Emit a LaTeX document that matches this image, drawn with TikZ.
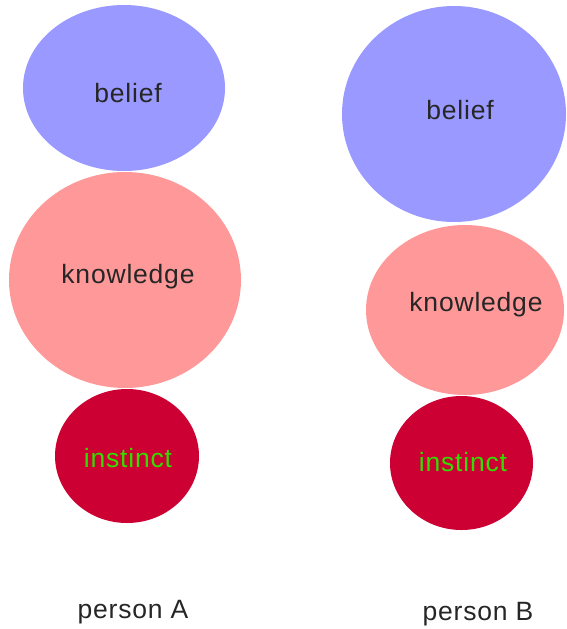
\documentclass[tikz,border=0pt]{standalone}
\usepackage{fontspec}
\setmainfont{Liberation Sans}[LetterSpace=3]
\definecolor{beliefblue}{HTML}{9999FF}
\definecolor{knowpink}{HTML}{FF9999}
\definecolor{instred}{HTML}{CC0033}
\definecolor{instgreen}{HTML}{33DD00}
\begin{document}
\begin{tikzpicture}[x=1pt,y=-1pt,
  lbl/.style={font=\fontsize{26.5}{30}\selectfont, inner sep=0pt, text=black!85}]
\useasboundingbox (0,0) rectangle (566,629);
% person A
\fill[beliefblue] (124,88) ellipse [x radius=101, y radius=83];
\fill[knowpink] (125,280) ellipse [x radius=116, y radius=108];
\fill[instred] (127,456) ellipse [x radius=72, y radius=67];
\node[lbl] (beliefA) at (128,93) {belief};
\node[lbl] (knowA) at (128,277) {knowledge};
\node[lbl, text=instgreen] (instA) at (128,458) {instinct};
\node[lbl] (personA) at (133,612) {person A};
% person B
\fill[beliefblue] (454,114) ellipse [x radius=112, y radius=108];
\fill[knowpink] (465,310) ellipse [x radius=99, y radius=85];
\fill[instred] (461.5,463) ellipse [x radius=71.5, y radius=67];
\node[lbl] (beliefB) at (460,110) {belief};
\node[lbl] (knowB) at (476,305) {knowledge};
\node[lbl, text=instgreen] (instB) at (463,462) {instinct};
\node[lbl] (personB) at (478,614) {person B};
\end{tikzpicture}
\end{document}
